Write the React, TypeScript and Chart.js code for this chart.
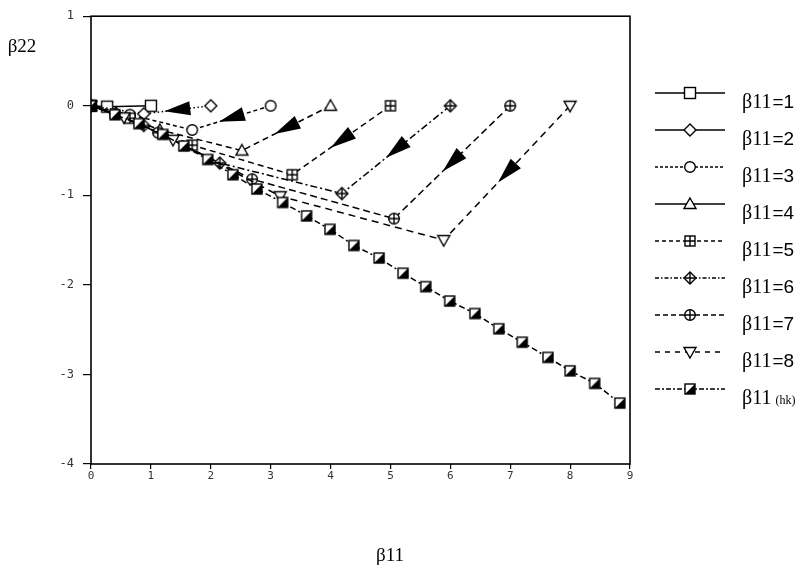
import React, { useEffect, useRef } from "react";
import { Chart, registerables } from "chart.js";

Chart.register(...registerables);

// ---- tick labels ----
const xTicks = [0, 1, 2, 3, 4, 5, 6, 7, 8, 9];
const yTicks = [-4, -3, -2, -1, 0, 1];

// ---- series (β11 = n paths, from (n,0) toward the origin) ----
const s1x = [1, 0.27, 0];
const s1y = [0, -0.01, 0];
const s2x = [2, 0.88, 0];
const s2y = [0, -0.09, 0];
const s3x = [3, 1.69, 0.65, 0];
const s3y = [0, -0.27, -0.1, 0];
const s4x = [4, 2.52, 1.15, 0.42, 0];
const s4y = [0, -0.5, -0.27, -0.08, 0];
const s5x = [5, 3.36, 1.69, 0.65, 0];
const s5y = [0, -0.77, -0.44, -0.14, 0];
const s6x = [6, 4.19, 2.15, 0.88, 0];
const s6y = [0, -0.98, -0.64, -0.22, 0];
const s7x = [7, 5.06, 2.69, 1.12, 0.4, 0];
const s7y = [0, -1.26, -0.82, -0.3, -0.09, 0];
const s8x = [8, 5.89, 3.16, 1.37, 0.55, 0];
const s8y = [0, -1.5, -1.01, -0.38, -0.13, 0];
const hkX = [0, 0.4, 0.8, 1.2, 1.55, 1.95, 2.37, 2.77, 3.2, 3.6, 3.99, 4.39, 4.81, 5.21, 5.59, 5.99, 6.41, 6.81, 7.2, 7.63, 8.0, 8.41, 8.83];
const hkY = [0, -0.1, -0.2, -0.32, -0.45, -0.6, -0.77, -0.93, -1.08, -1.23, -1.38, -1.56, -1.7, -1.87, -2.02, -2.18, -2.32, -2.49, -2.64, -2.81, -2.96, -3.1, -3.32];

const seriesLabels = ["β11=1", "β11=2", "β11=3", "β11=4", "β11=5", "β11=6", "β11=7", "β11=8", "β11 (hk)"];
const seriesX = [s1x, s2x, s3x, s4x, s5x, s6x, s7x, s8x, hkX];
const seriesY = [s1y, s2y, s3y, s4y, s5y, s6y, s7y, s8y, hkY];
const markerKinds = ["square", "diamond", "circle", "triangle", "squarePlus", "diamondPlus", "circlePlus", "triangleDown", "halfSquare"];
const chartDashes: number[][] = [[], [1.5, 2.5], [4, 3], [6, 4], [6, 4], [7, 3, 2, 3], [7, 4], [7, 5], [6, 3, 2, 3]];
const legendDashes: number[][] = [[], [], [3, 2], [], [4, 3], [4, 2, 1.5, 2], [5, 3], [5, 5], [5, 2, 2, 2]];
const arrowSeries = [1, 2, 3, 4, 5, 6, 7];

function makeMarker(kind: string): HTMLCanvasElement {
  const s = 16;
  const c = document.createElement("canvas");
  c.width = s;
  c.height = s;
  const g = c.getContext("2d")!;
  g.lineWidth = 1.4;
  g.strokeStyle = "#000";
  g.fillStyle = "#fff";
  const m = s / 2;
  const plus = (r: number) => {
    g.beginPath();
    g.moveTo(m - r, m);
    g.lineTo(m + r, m);
    g.moveTo(m, m - r);
    g.lineTo(m, m + r);
    g.stroke();
  };
  if (kind === "square") {
    const r = 5.5;
    g.fillRect(m - r, m - r, 2 * r, 2 * r);
    g.strokeRect(m - r, m - r, 2 * r, 2 * r);
  } else if (kind === "squarePlus") {
    const r = 5;
    g.fillRect(m - r, m - r, 2 * r, 2 * r);
    g.strokeRect(m - r, m - r, 2 * r, 2 * r);
    plus(r);
  } else if (kind === "halfSquare") {
    const r = 5;
    g.fillRect(m - r, m - r, 2 * r, 2 * r);
    g.fillStyle = "#000";
    g.beginPath();
    g.moveTo(m + r, m - r);
    g.lineTo(m + r, m + r);
    g.lineTo(m - r, m + r);
    g.closePath();
    g.fill();
    g.strokeRect(m - r, m - r, 2 * r, 2 * r);
  } else if (kind === "diamond" || kind === "diamondPlus") {
    const r = 6;
    g.beginPath();
    g.moveTo(m, m - r);
    g.lineTo(m + r, m);
    g.lineTo(m, m + r);
    g.lineTo(m - r, m);
    g.closePath();
    g.fill();
    g.stroke();
    if (kind === "diamondPlus") plus(r);
  } else if (kind === "circle" || kind === "circlePlus") {
    const r = 5.3;
    g.beginPath();
    g.arc(m, m, r, 0, Math.PI * 2);
    g.fill();
    g.stroke();
    if (kind === "circlePlus") plus(r);
  } else if (kind === "triangle") {
    g.beginPath();
    g.moveTo(m, m - 6);
    g.lineTo(m + 6, m + 4.5);
    g.lineTo(m - 6, m + 4.5);
    g.closePath();
    g.fill();
    g.stroke();
  } else if (kind === "triangleDown") {
    g.beginPath();
    g.moveTo(m, m + 6);
    g.lineTo(m + 6, m - 4.5);
    g.lineTo(m - 6, m - 4.5);
    g.closePath();
    g.fill();
    g.stroke();
  }
  return c;
}

export default function App() {
  const ref = useRef<HTMLCanvasElement | null>(null);

  useEffect(() => {
    if (!ref.current) return;
    const markers = markerKinds.map(makeMarker);

    const datasets = seriesLabels.map((label, i) => ({
      label,
      data: seriesX[i].map((x, j) => ({ x, y: seriesY[i][j] })),
      showLine: true,
      borderColor: "#000",
      backgroundColor: "#fff",
      borderWidth: 1.5,
      borderDash: chartDashes[i],
      pointStyle: markers[i] as any,
      pointRadius: 5,
      tension: 0,
      order: 9 - i,
    }));

    const decor = {
      id: "decor",
      afterDatasetsDraw(chart: any) {
        const ctx = chart.ctx;
        const xs = chart.scales.x;
        const ys = chart.scales.y;
        ctx.save();
        ctx.fillStyle = "#000";
        arrowSeries.forEach((i) => {
          const x0 = xs.getPixelForValue(seriesX[i][0]);
          const y0 = ys.getPixelForValue(seriesY[i][0]);
          const x1 = xs.getPixelForValue(seriesX[i][1]);
          const y1 = ys.getPixelForValue(seriesY[i][1]);
          const mx = (x0 + x1) / 2;
          const my = (y0 + y1) / 2;
          const len = Math.hypot(x1 - x0, y1 - y0);
          const dx = (x1 - x0) / len;
          const dy = (y1 - y0) / len;
          const L = 26;
          const W = 7;
          const tx = mx + (dx * L) / 2;
          const ty = my + (dy * L) / 2;
          const bx = mx - (dx * L) / 2;
          const by = my - (dy * L) / 2;
          ctx.beginPath();
          ctx.moveTo(tx, ty);
          ctx.lineTo(bx - dy * W, by + dx * W);
          ctx.lineTo(bx + dy * W, by - dx * W);
          ctx.closePath();
          ctx.fill();
        });
        ctx.restore();
      },
      afterDraw(chart: any) {
        const ctx = chart.ctx;
        const a = chart.chartArea;
        ctx.save();
        ctx.strokeStyle = "#000";
        ctx.lineWidth = 1.6;
        ctx.setLineDash([]);
        ctx.strokeRect(a.left, a.top, a.right - a.left, a.bottom - a.top);
        ctx.fillStyle = "#000";
        ctx.textBaseline = "middle";
        ctx.textAlign = "center";
        ctx.font = "19px 'Liberation Serif'";
        ctx.fillText("β22", 22, 47);
        ctx.fillText("β11", 390, 556);
        seriesLabels.forEach((label, i) => {
          const ly = 93 + 37 * i;
          ctx.strokeStyle = "#000";
          ctx.lineWidth = 1.5;
          ctx.setLineDash(legendDashes[i]);
          ctx.beginPath();
          ctx.moveTo(655, ly);
          ctx.lineTo(725, ly);
          ctx.stroke();
          ctx.setLineDash([]);
          const mk = markers[i];
          ctx.drawImage(mk, 690 - mk.width / 2, ly - mk.height / 2);
          const ty = ly + 10;
          ctx.textAlign = "left";
          ctx.textBaseline = "middle";
          ctx.font = "20px 'Liberation Serif'";
          ctx.fillText("β11", 742, ty);
          const w = ctx.measureText("β11").width;
          if (label.indexOf("(hk)") >= 0) {
            ctx.font = "12px 'Liberation Serif'";
            ctx.fillText("(hk)", 742 + w + 4, ty + 2);
          } else {
            ctx.font = "19px 'Liberation Sans'";
            ctx.fillText(label.slice(3), 742 + w + 1, ty);
          }
        });
        ctx.restore();
      },
    };

    const chart = new Chart(ref.current, {
      type: "scatter",
      data: { datasets: datasets as any },
      options: {
        animation: false,
        responsive: false,
        layout: { padding: { top: 15, right: 181, bottom: 0, left: 0 } },
        plugins: { legend: { display: false }, tooltip: { enabled: false } },
        scales: {
          x: {
            type: "linear",
            min: 0,
            max: 9,
            afterFit(scale: any) {
              scale.height = 108;
            },
            afterBuildTicks(scale: any) {
              scale.ticks = xTicks.map((v) => ({ value: v }));
            },
            grid: { display: true, drawOnChartArea: false, drawTicks: true, tickLength: 5, color: "#000", lineWidth: 1.2 },
            border: { display: false },
            ticks: { color: "#333", padding: 1, font: { family: "'DejaVu Sans Mono'", size: 11 } },
          },
          y: {
            type: "linear",
            min: -4,
            max: 1,
            afterFit(scale: any) {
              scale.width = 91;
            },
            afterBuildTicks(scale: any) {
              scale.ticks = yTicks.map((v) => ({ value: v }));
            },
            grid: { display: true, drawOnChartArea: false, drawTicks: true, tickLength: 8, color: "#000", lineWidth: 1.2 },
            border: { display: false },
            ticks: { color: "#333", padding: 9, font: { family: "'DejaVu Sans Mono'", size: 12 } },
          },
        },
      },
      plugins: [decor],
    });
    return () => chart.destroy();
  }, []);

  return (
    <div style={{ position: "fixed", left: 0, top: 0, width: 811, height: 572, background: "#fff" }}>
      <canvas ref={ref} width={811} height={572} style={{ display: "block" }} />
    </div>
  );
}
